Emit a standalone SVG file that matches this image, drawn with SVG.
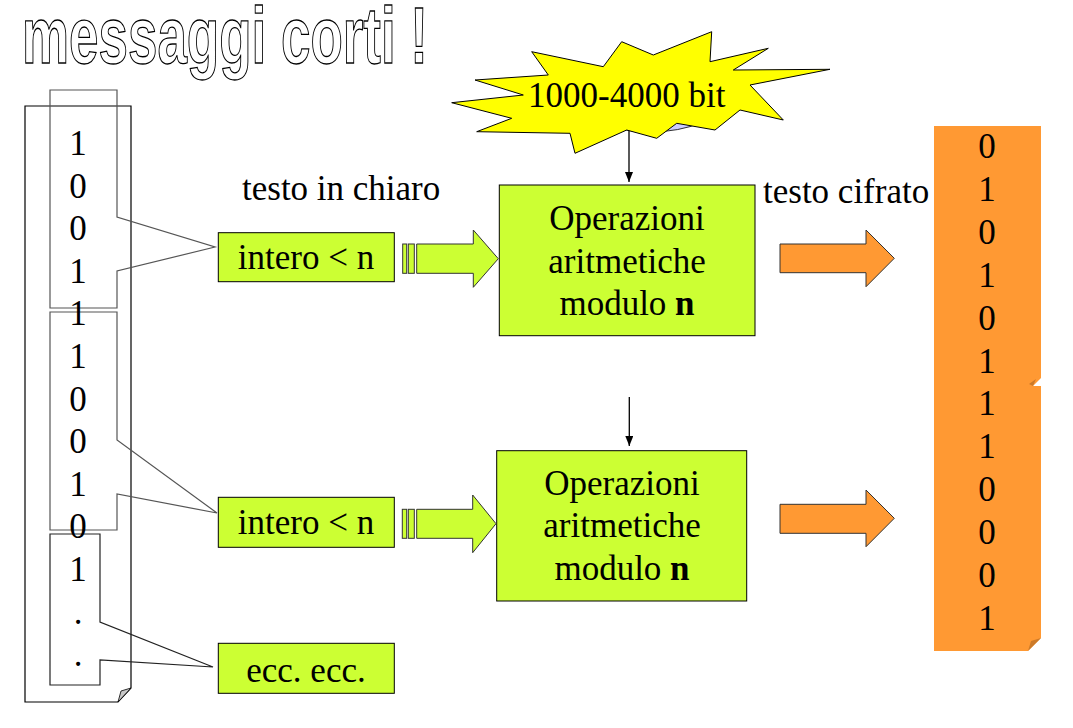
<svg xmlns="http://www.w3.org/2000/svg" width="1073" height="728" viewBox="0 0 1073 728">
<defs>
<style>
.t{font-family:"Liberation Serif","Times New Roman",serif;font-size:35px;fill:#000}
.c{text-anchor:middle}
.g{fill:#CCFF33;stroke:#000;stroke-width:1}
.ga{fill:#CCFF33;stroke:#333;stroke-width:1}
.o{fill:#FF9933;stroke:#333;stroke-width:1}
.co{fill:none;stroke:#555;stroke-width:1.2}
.ln{stroke:#000;stroke-width:1.3;fill:none}
</style>
<marker id="ah" markerWidth="10" markerHeight="8" refX="10" refY="4" orient="auto" markerUnits="userSpaceOnUse">
<path d="M0,0 L10,4 L0,8 z" fill="#000"/>
</marker>
</defs>
<rect width="1073" height="728" fill="#fff"/>

<g id="title">
<text x="22" y="63" textLength="406" lengthAdjust="spacingAndGlyphs" style="font-family:'Liberation Sans',Arial,sans-serif;font-weight:bold;font-size:80px;fill:#fff;stroke:#000;stroke-width:1.3">messaggi corti !</text>
</g>

<g id="plaintext-page">
<path d="M25,106 H131 V688 L118,702 H25 Z" fill="#fff" stroke="#000" stroke-width="1.2"/>
<path d="M131,688 L118,702 L121,691 Z" fill="#c8c8c8" stroke="#000" stroke-width="0.8"/>
<path class="co" d="M50,90 H117 V217 L215,247 L117,271 V308 H50 Z"/>
<path class="co" d="M50,312 H117 V440 L217,513 L117,494 V530 H50 Z"/>
<path class="co" style="stroke:#222" d="M50,534 H100 V622 L213,667 L100,660 V685 H50 Z"/>
<text class="t c" x="78" y="155">1</text>
<text class="t c" x="78" y="197.6">0</text>
<text class="t c" x="78" y="240.2">0</text>
<text class="t c" x="78" y="282.8">1</text>
<text class="t c" x="78" y="325.4">1</text>
<text class="t c" x="78" y="368">1</text>
<text class="t c" x="78" y="410.6">0</text>
<text class="t c" x="78" y="453.2">0</text>
<text class="t c" x="78" y="495.8">1</text>
<text class="t c" x="78" y="538.4">0</text>
<text class="t c" x="78" y="581">1</text>
<text class="t c" x="78" y="623.6">.</text>
<text class="t c" x="78" y="666.2">.</text>
</g>

<g id="label-plain">
<text class="t" x="242" y="200">testo in chiaro</text>
</g>
<g id="label-cipher">
<text class="t" x="763" y="203">testo cifrato</text>
</g>

<g id="int1">
<rect class="g" x="218.3" y="232.7" width="176" height="49"/>
<text class="t c" x="306" y="269.3">intero &lt; n</text>
</g>
<g id="int2">
<rect class="g" x="218.3" y="497.3" width="176" height="50"/>
<text class="t c" x="306" y="534">intero &lt; n</text>
</g>
<g id="ecc">
<rect class="g" x="218.3" y="643.3" width="176" height="50"/>
<text class="t c" x="306" y="681.7">ecc. ecc.</text>
</g>

<g id="burst">
<ellipse cx="650" cy="100" rx="72" ry="32" fill="#ccccff" stroke="#000" stroke-width="0.8"/>
<polygon points="531.7,51.7 603.3,66.7 621.7,41.7 653.3,55 711.7,31.7 710,61.7 768.3,48.3 733.3,70 830,69.3 750,85 783.3,120 740,110 715,130 676.7,123.3 656.7,138.3 626.7,130 575,153.3 570,133.3 476.7,131.7 511.7,118.3 451.7,102.7 523.3,95 475,80 548.3,75" fill="#FFFF00" stroke="#000" stroke-width="1"/>
<text class="t" x="528" y="107">1000-4000 bit</text>
</g>

<g id="op1">
<rect class="g" x="499.3" y="185" width="255.7" height="150.7"/>
<text class="t c" x="627" y="230">Operazioni</text>
<text class="t c" x="627" y="273">aritmetiche</text>
<text class="t c" x="627" y="315">modulo <tspan font-weight="bold">n</tspan></text>
</g>
<g id="op2">
<rect class="g" x="496.7" y="450.7" width="250" height="150.3"/>
<text class="t c" x="622" y="495">Operazioni</text>
<text class="t c" x="622" y="537">aritmetiche</text>
<text class="t c" x="622" y="580">modulo <tspan font-weight="bold">n</tspan></text>
</g>

<g id="ciphertext-page">
<path d="M934,386 H1041 V638 L1028,651 H934 Z" fill="#FF9933"/>
<path d="M1041,638 L1028,651 L1031,641 Z" fill="#cc7a29"/>
<path d="M934,126 H1041 V378 L1033,386 H934 Z" fill="#FF9933"/>
<path d="M1033,386 L1029,384 L1036,379 Z" fill="#cc7a29"/>
<text class="t c" x="987" y="158">0</text>
<text class="t c" x="987" y="200.9">1</text>
<text class="t c" x="987" y="243.8">0</text>
<text class="t c" x="987" y="286.7">1</text>
<text class="t c" x="987" y="329.6">0</text>
<text class="t c" x="987" y="372.5">1</text>
<text class="t c" x="987" y="415.4">1</text>
<text class="t c" x="987" y="458.3">1</text>
<text class="t c" x="987" y="501.2">0</text>
<text class="t c" x="987" y="544.1">0</text>
<text class="t c" x="987" y="587">0</text>
<text class="t c" x="987" y="629.9">1</text>
</g>

<g id="connectors">
<rect class="ga" x="402.7" y="244" width="4" height="29.3"/>
<rect class="ga" x="408.3" y="244" width="6" height="29.3"/>
<polygon class="ga" points="416.7,244 473.3,244 473.3,230 498.3,258.7 473.3,287.3 473.3,273.3 416.7,273.3"/>
<rect class="ga" x="402.3" y="509.3" width="4.4" height="29"/>
<rect class="ga" x="408.3" y="509.3" width="6" height="29"/>
<polygon class="ga" points="416.7,509.3 472.7,509.3 472.7,495 496,523.7 472.7,552.7 472.7,538.3 416.7,538.3"/>
<polygon class="o" points="780,244 866,244 866,230 894.3,258.3 866,286.7 866,272.7 780,272.7"/>
<polygon class="o" points="780,504.3 866,504.3 866,490 894.3,518.3 866,546.7 866,533.3 780,533.3"/>
<line class="ln" x1="629" y1="131" x2="629" y2="182" marker-end="url(#ah)"/>
<line class="ln" x1="629.3" y1="397" x2="629.3" y2="446" marker-end="url(#ah)"/>
</g>
</svg>
